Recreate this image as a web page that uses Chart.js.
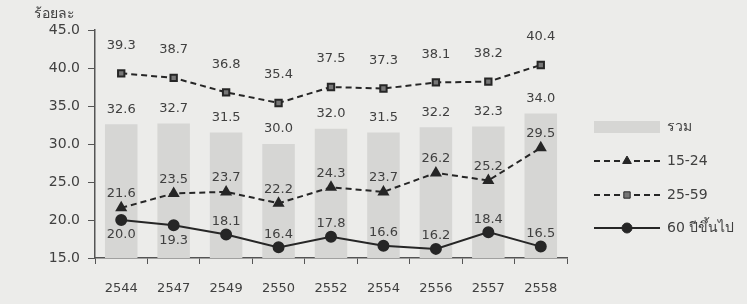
<!DOCTYPE html>
<html><head><meta charset="utf-8">
<script src="https://cdn.jsdelivr.net/npm/chart.js@4.4.1/dist/chart.umd.min.js"></script>
<style>
html,body{margin:0;padding:0;background:#ececea;}
#wrap{position:relative;width:747px;height:304px;}
</style></head>
<body><div id="wrap"><canvas id="c" width="747" height="304"></canvas></div>
<script>
const years = ['2544','2547','2549','2550','2552','2554','2556','2557','2558'];
const totalAll = [32.6,32.7,31.5,30.0,32.0,31.5,32.2,32.3,34.0];
const age15_24 = [21.6,23.5,23.7,22.2,24.3,23.7,26.2,25.2,29.5];
const age25_59 = [39.3,38.7,36.8,35.4,37.5,37.3,38.1,38.2,40.4];
const age60up = [20.0,19.3,18.1,16.4,17.8,16.6,16.2,18.4,16.5];
const yTicks = [15,20,25,30,35,40,45];

const FONT = '"DejaVu Sans", Tahoma, "Noto Sans", sans-serif';
const TXT = '#404040';
const INK = '#262626';

const labelPlugin = {
  id:'vals',
  afterDatasetsDraw(chart){
    const ctx = chart.ctx;
    ctx.save();
    ctx.font = '13px ' + FONT;
    ctx.fillStyle = TXT;
    ctx.textAlign = 'center';
    ctx.textBaseline = 'middle';
    chart.data.datasets.forEach((ds,i)=>{
      const meta = chart.getDatasetMeta(i);
      meta.data.forEach((el,j)=>{
        let off = ds.labelOffset;
        if (ds.labelBelow && ds.labelBelow[j]) off = ds.labelBelowOffset;
        ctx.fillText(ds.data[j].toFixed(1), el.x, el.y + off);
      });
    });
    ctx.restore();
  }
};

const legendPlugin = {
  id:'customLegend',
  afterDraw(chart){
    const ctx = chart.ctx;
    ctx.save();
    const x0 = 594, x1 = 660, tx = 667;
    const ys = [127,161,195,228];
    chart.data.datasets.forEach((ds,i)=>{
      const y = ys[i];
      if (ds.type === 'bar') {
        ctx.fillStyle = ds.backgroundColor;
        ctx.fillRect(x0, y-6, x1-x0, 12);
      } else {
        ctx.strokeStyle = ds.borderColor;
        ctx.lineWidth = ds.borderWidth;
        ctx.setLineDash(ds.borderDash || []);
        ctx.beginPath(); ctx.moveTo(x0,y); ctx.lineTo(x1,y); ctx.stroke();
        ctx.setLineDash([]);
        const cx = (x0+x1)/2;
        ctx.fillStyle = ds.pointBackgroundColor;
        ctx.strokeStyle = ds.pointBorderColor;
        ctx.lineWidth = 1;
        Chart.helpers.drawPoint(ctx, {pointStyle: ds.pointStyle, radius: ds.pointRadius, borderWidth:1}, cx, y);
      }
      ctx.font = '14px ' + FONT;
      ctx.fillStyle = TXT;
      ctx.textAlign = 'left';
      ctx.textBaseline = 'middle';
      ctx.fillText(ds.label, tx, y);
    });
    // y title
    ctx.font = '14px ' + FONT;
    ctx.fillStyle = TXT;
    ctx.textAlign = 'left';
    ctx.fillText('ร้อยละ', 34, 14);
    ctx.restore();
  }
};

new Chart(document.getElementById('c'), {
  data:{
    labels: years,
    datasets:[
      {type:'bar', label:'รวม', data: totalAll, backgroundColor:'#d6d6d4', borderWidth:0,
       categoryPercentage:1, barPercentage:0.62, order:4, labelOffset:-15},
      {type:'line', label:'15-24', data: age15_24, borderColor:INK, borderWidth:2, borderDash:[6,4],
       pointStyle:'triangle', pointRadius:5, pointBackgroundColor:INK, pointBorderColor:INK, order:2, labelOffset:-14},
      {type:'line', label:'25-59', data: age25_59, borderColor:INK, borderWidth:2, borderDash:[6,4],
       pointStyle:'rect', pointRadius:4.5, pointBackgroundColor:'#777', pointBorderColor:INK, order:3, labelOffset:-28},
      {type:'line', label:'60 ปีขึ้นไป', data: age60up, borderColor:INK, borderWidth:2,
       pointStyle:'circle', pointRadius:5, pointBackgroundColor:INK, pointBorderColor:INK, order:1,
       labelOffset:-13, labelBelow:[true,true,false,false,false,false,false,false,false], labelBelowOffset:15}
    ]
  },
  options:{
    responsive:false, animation:false,
    layout:{padding:{top:30,right:180,left:0,bottom:0}},
    plugins:{legend:{display:false}, tooltip:{enabled:false}},
    scales:{
      x:{
        offset:true,
        grid:{offset:true, drawOnChartArea:false, drawTicks:true, tickLength:6, color:'#555'},
        border:{color:'#555', width:1.5},
        ticks:{font:{family:FONT,size:13}, color:TXT, padding:17},
        afterFit(s){ s.height = 46; }
      },
      y:{
        min:15, max:45,
        afterBuildTicks(s){ s.ticks = yTicks.map(v=>({value:v})); },
        grid:{drawOnChartArea:false, drawTicks:true, tickLength:7, color:'#555'},
        border:{color:'#555', width:1.5},
        ticks:{font:{family:FONT,size:14}, color:TXT, padding:8, callback:v=>v.toFixed(1)},
        afterFit(s){ s.width = 95; }
      }
    }
  },
  plugins:[labelPlugin, legendPlugin]
});
</script></body></html>
